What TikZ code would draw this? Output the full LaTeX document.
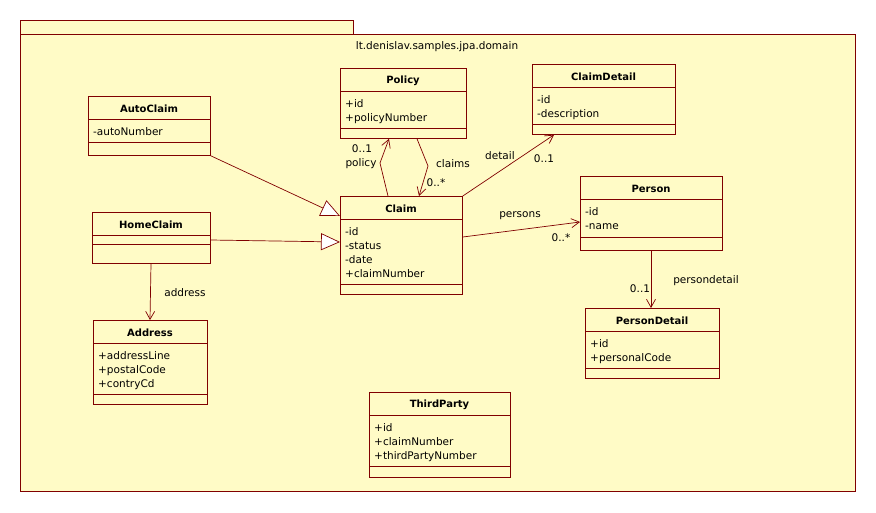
\documentclass[tikz,border=0pt]{standalone}
\usepackage{fontspec}
\setmainfont{DejaVu Sans}
\usetikzlibrary{arrows.meta}
\definecolor{umlbg}{RGB}{255,251,198}
\definecolor{umlline}{RGB}{128,0,0}
\tikzset{
  classbox/.style={draw=umlline, line width=0.8pt, fill=umlbg, inner sep=0pt},
  pkgbox/.style={draw=umlline, line width=0.8pt, fill=umlbg, inner sep=0pt},
  titletext/.style={font=\bfseries\fontsize{10}{12}\selectfont, inner sep=0pt},
  attrtext/.style={font=\fontsize{10.5}{14}\selectfont, align=left, inner sep=1pt},
  lbl/.style={font=\fontsize{10.5}{12}\selectfont, inner sep=0pt},
  divline/.style={draw=umlline, line width=0.8pt},
  assoc/.style={draw=umlline, line width=0.7pt, -{Straight Barb[length=8pt,width=9pt,line width=0.7pt]}},
  gener/.style={draw=umlline, line width=0.7pt, -{Triangle[open, length=19pt, width=17pt, fill=white, line width=0.7pt]}},
}
\newcommand\umlclass[9]{%
  \node[classbox, minimum width=#4pt, minimum height=#5pt, anchor=north west] (#1) at (#2,#3) {};
  \draw[divline] (#2,#6) -- ++(#4,0);
  \draw[divline] (#2,#7) -- ++(#4,0);
  \node[titletext] (#1-title) at ({#2+#4/2},{(#3+#6)/2+1}) {#8};
  \node[attrtext, anchor=north west] (#1-attrs) at ({#2+4},{#6+7}) {#9};
}
\begin{document}
\begin{tikzpicture}[x=1pt,y=-1pt]
\useasboundingbox (0,0) rectangle (876,512);
\fill[white] (0,0) rectangle (876,512);
% package
\node[pkgbox, minimum width=333pt, minimum height=14pt, anchor=north west] (pkgtab) at (20,20) {};
\node[pkgbox, minimum width=835pt, minimum height=457pt, anchor=north west] (pkg) at (20,34) {};
\node[lbl] (pkgname) at (437,47) {lt.denislav.samples.jpa.domain};
% classes
\umlclass{policy}{340}{68}{126}{70}{91}{128}{Policy}{+id\\+policyNumber}
\umlclass{claimdetail}{532}{64}{143}{70}{87}{124}{ClaimDetail}{-id\\-description}
\umlclass{autoclaim}{88}{96}{122}{59}{119}{142}{AutoClaim}{-autoNumber}
\umlclass{claim}{340}{196}{122}{98}{219}{284}{Claim}{-id\\-status\\-date\\+claimNumber}
\umlclass{homeclaim}{92}{212}{118}{51}{235}{244}{HomeClaim}{}
\umlclass{person}{580}{176}{142}{74}{199}{237}{Person}{-id\\-name}
\umlclass{address}{93}{320}{114}{84}{343}{394}{Address}{+addressLine\\+postalCode\\+contryCd}
\umlclass{persondetail}{585}{308}{134}{70}{331}{368}{PersonDetail}{+id\\+personalCode}
\umlclass{thirdparty}{369}{392}{141}{85}{415}{466}{ThirdParty}{+id\\+claimNumber\\+thirdPartyNumber}
% generalizations
\draw[gener] (autoclaim.south east) -- ([yshift=-20pt]claim.north west);
\draw[gener] ([yshift=-28pt]homeclaim.north east) -- ([yshift=-46pt]claim.north west);
% associations
\coordinate (bendpolicy) at (380,163);
\coordinate (bendclaims) at (428,166);
\draw[assoc] ([xshift=48pt]claim.north west) -- (bendpolicy) -- ([xshift=49pt]policy.south west);
\draw[assoc] ([xshift=77pt]policy.south west) -- (bendclaims) -- ([xshift=79pt]claim.north west);
\draw[assoc] (claim.north east) -- ([xshift=22pt]claimdetail.south west);
\draw[assoc] ([yshift=-41pt]claim.north east) -- ([yshift=-46pt]person.north west);
\draw[assoc] ([xshift=71pt]person.south west) -- ([xshift=66pt]persondetail.north west);
\draw[assoc] ([xshift=59pt]homeclaim.south west) -- ([xshift=57pt]address.north west);
% labels
\node[lbl] (l-pol-m) at (362,149) {0..1};
\node[lbl] (l-pol-r) at (361,164) {policy};
\node[lbl] (l-cl-r) at (453,164) {claims};
\node[lbl] (l-cl-m) at (436,183) {0..*};
\node[lbl] (l-det-r) at (500,156) {detail};
\node[lbl] (l-det-m) at (544,159) {0..1};
\node[lbl] (l-per-r) at (520,216) {persons};
\node[lbl] (l-per-m) at (561,238) {0..*};
\node[lbl] (l-pd-m) at (640,289) {0..1};
\node[lbl] (l-pd-r) at (706,281) {persondetail};
\node[lbl] (l-addr) at (185,293) {address};
\end{tikzpicture}
\end{document}
